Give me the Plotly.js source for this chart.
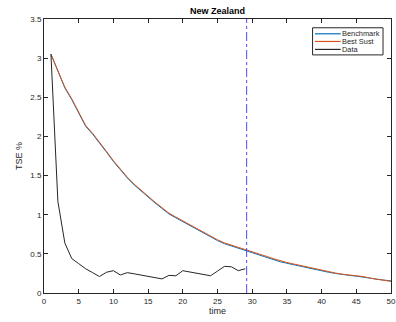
<!DOCTYPE html>
<html><head><meta charset="utf-8">
<script src="https://cdn.plot.ly/plotly-3.0.1.min.js"></script>
<style>html,body{margin:0;padding:0;background:#fff}#chart{width:396px;height:322px}</style>
</head><body><div id="chart"></div>
<script>
const timeModel = Array.from({length:50},(_,i)=>i+1);
const benchmark = [3.05,2.83,2.62,2.47,2.30,2.13,2.03,1.92,1.80,1.68,1.57,1.47,1.38,1.30,1.23,1.15,1.08,1.01,0.96,0.91,0.86,0.81,0.76,0.71,0.67,0.63,0.60,0.57,0.54,0.51,0.48,0.46,0.43,0.40,0.38,0.36,0.34,0.32,0.30,0.28,0.265,0.25,0.235,0.225,0.215,0.205,0.19,0.175,0.165,0.155];
const bestSust = [3.05,2.84,2.63,2.48,2.31,2.14,2.04,1.93,1.81,1.69,1.58,1.48,1.39,1.31,1.24,1.16,1.09,1.02,0.97,0.92,0.87,0.82,0.77,0.72,0.68,0.64,0.61,0.58,0.55,0.52,0.49,0.47,0.44,0.41,0.39,0.37,0.35,0.33,0.31,0.29,0.27,0.255,0.24,0.23,0.22,0.21,0.19,0.175,0.16,0.148];
const timeData = Array.from({length:29},(_,i)=>i+1);
const dataVals = [3.05,1.17,0.64,0.44,0.375,0.31,0.26,0.21,0.265,0.285,0.23,0.26,0.245,0.23,0.215,0.2,0.18,0.225,0.22,0.285,0.27,0.255,0.235,0.22,0.28,0.34,0.335,0.285,0.31];
const cutoffX = [29.2, 29.2];
const cutoffY = [0, 3.5];
const xTicks = [0,5,10,15,20,25,30,35,40,45,50];
const yTicks = [0,0.5,1,1.5,2,2.5,3,3.5];
const yTickLabels = ["0","0.5","1","1.5","2","2.5","3","3.5"];
const seriesNames = ['Benchmark','Best Sust','Data'];
const seriesColors = ['#0072BD','#D95319','#262626'];

const FONT = 'Liberation Sans, Arial, sans-serif';
const traces = [
  {x:timeModel,y:benchmark,name:seriesNames[0],mode:'lines',line:{color:seriesColors[0],width:1}},
  {x:timeModel,y:bestSust,name:seriesNames[1],mode:'lines',line:{color:seriesColors[1],width:1}},
  {x:timeData,y:dataVals,name:seriesNames[2],mode:'lines',line:{color:seriesColors[2],width:1}},
  {x:cutoffX,y:cutoffY,mode:'lines',showlegend:false,line:{color:'#4b4bff',width:1,dash:'dashdot'}}
];

// compact MATLAB-style legend built from shapes + annotations (paper coords)
const legBox = {x0:0.774,x1:0.977,y0:0.869,y1:0.968};
const legRowY = [0.946,0.918,0.889];
const shapes = [{type:'rect',xref:'paper',yref:'paper',x0:legBox.x0,x1:legBox.x1,y0:legBox.y0,y1:legBox.y1,line:{color:'#262626',width:1},fillcolor:'#fff',layer:'above'}];
const annotations = [];
seriesNames.forEach((n,i)=>{
  shapes.push({type:'line',xref:'paper',yref:'paper',x0:0.781,x1:0.855,y0:legRowY[i],y1:legRowY[i],line:{color:seriesColors[i],width:1.2},layer:'above'});
  annotations.push({xref:'paper',yref:'paper',x:0.857,y:legRowY[i],xanchor:'left',yanchor:'middle',text:n,showarrow:false,borderpad:0,font:{family:FONT,size:7.4,color:'#262626'}});
});

const axisCommon = {showgrid:false,zeroline:false,showline:true,mirror:'ticks',linecolor:'#262626',linewidth:1,ticks:'inside',ticklen:4,tickcolor:'#262626',tickfont:{family:FONT,size:8,color:'#262626'}};
const layout = {
  width:396,height:322,
  margin:{l:44,r:5,t:19,b:29},
  paper_bgcolor:'#fff',plot_bgcolor:'#fff',
  title:{text:'<b>New Zealand</b>',font:{family:FONT,size:9,color:'#000'},x:0.549,xanchor:'center',y:0.966,yanchor:'middle'},
  xaxis:Object.assign({},axisCommon,{range:[0,50],tickvals:xTicks,title:{text:'time',font:{family:FONT,size:9,color:'#262626'},standoff:2}}),
  yaxis:Object.assign({},axisCommon,{range:[0,3.5],tickvals:yTicks,ticktext:yTickLabels,title:{text:'TSE %',font:{family:FONT,size:9,color:'#262626'},standoff:6}}),
  showlegend:false,
  shapes:shapes,
  annotations:annotations
};
Plotly.newPlot('chart',traces,layout,{staticPlot:true,displayModeBar:false});
</script></body></html>
